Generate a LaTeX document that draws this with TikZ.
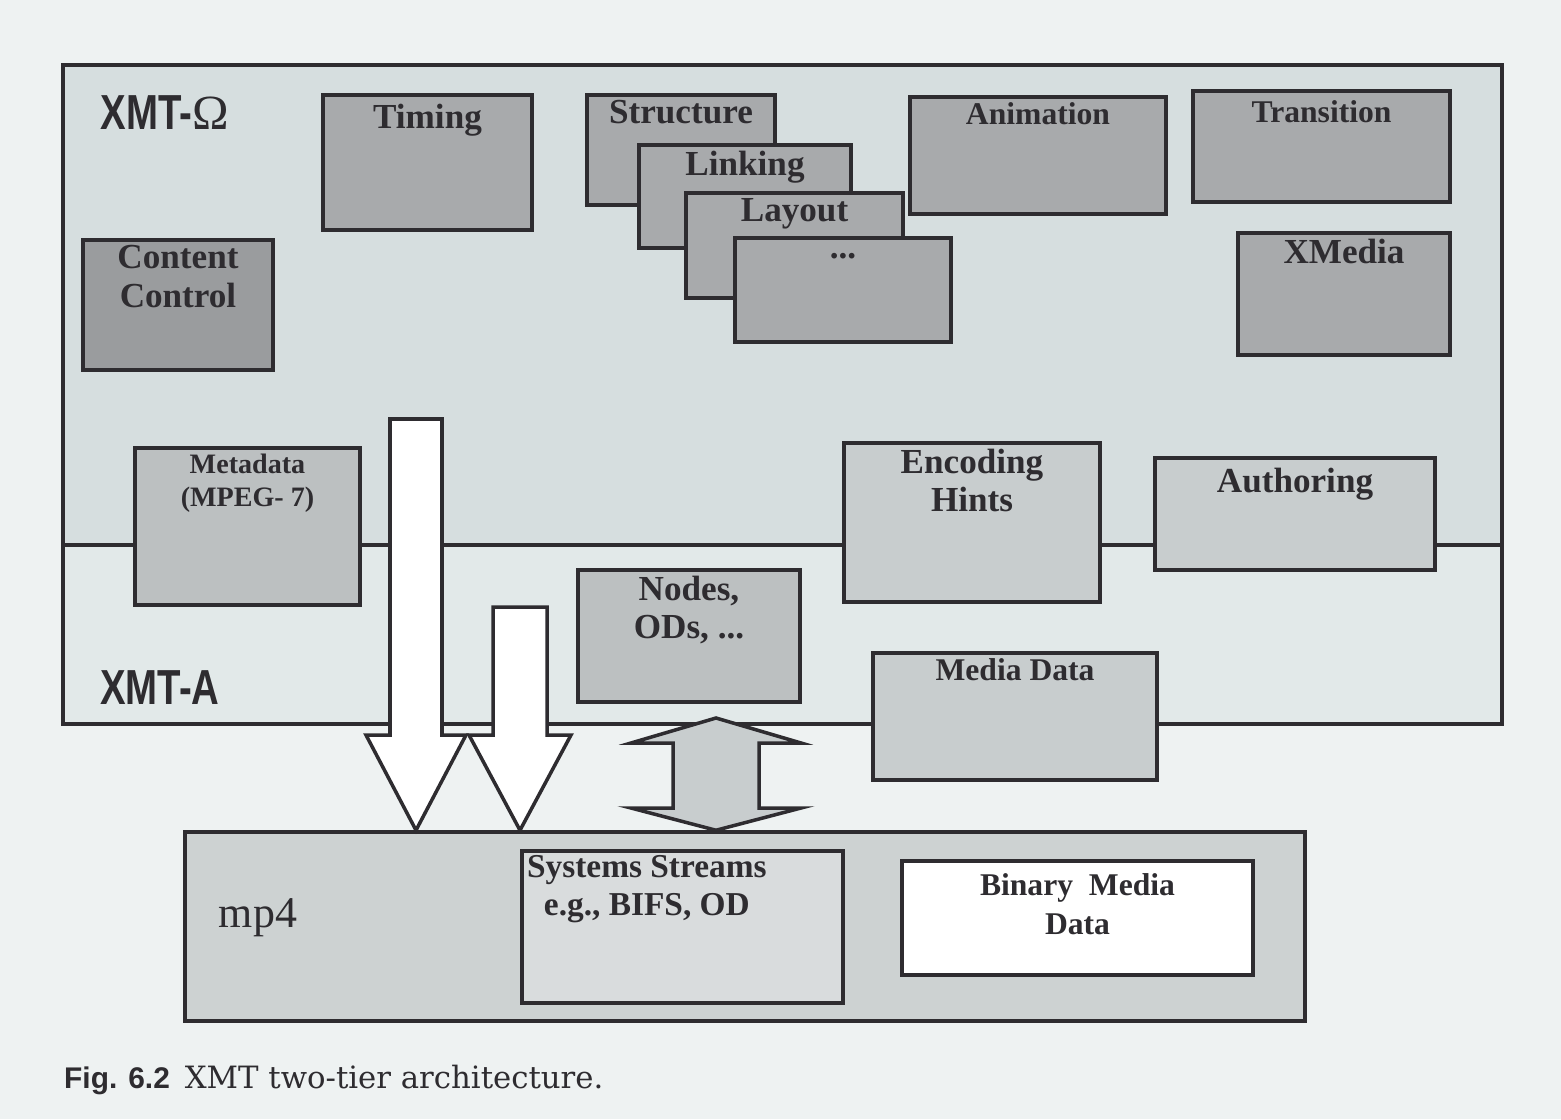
\documentclass[tikz,border=0pt]{standalone}
\usepackage{fontspec}
\setmainfont{Liberation Serif}
\setsansfont{Liberation Sans}
\newfontfamily\tiersans[FakeStretch=0.78]{Liberation Sans}
\newfontfamily\capserif{DejaVu Serif}
\usetikzlibrary{calc}
\usetikzlibrary{fit}

\definecolor{paper}{HTML}{EEF2F2}
\definecolor{omegafill}{HTML}{D6DEDF}
\definecolor{afill}{HTML}{E2E9E9}
\definecolor{deepbox}{HTML}{9A9C9E}
\definecolor{darkbox}{HTML}{A8AAAC}
\definecolor{midbox}{HTML}{BCC0C1}
\definecolor{lightbox}{HTML}{C8CDCE}
\definecolor{mpfill}{HTML}{CDD2D2}
\definecolor{ink}{HTML}{2E2C30}

\tikzset{
  frame/.style={draw=ink, line width=2pt},
  obox/.style={frame, fill=darkbox, inner sep=0pt},
  abox/.style={frame, fill=midbox, inner sep=0pt},
  lab/.style={text=ink, font=\bfseries\fontsize{20}{22}\selectfont, align=center, below, inner sep=4pt},
  smalllab/.style={lab, font=\bfseries\fontsize{17}{20}\selectfont},
  tier/.style={text=ink, font=\tiersans\bfseries\fontsize{28}{30}\selectfont},
  hollow/.style={frame, fill=white, line join=miter},
  twoway/.style={frame, fill=lightbox, line join=miter},
}

\begin{document}
\begin{tikzpicture}[x=0.02cm, y=-0.02cm]
  \useasboundingbox[fill=paper] (0,0) rectangle (1561,1119);

  % the two tiers
  \node[frame, fill=afill, inner sep=0pt, fit={(63,545) (1502,724)}] (xmta) {};
  \node[frame, fill=omegafill, inner sep=0pt, fit={(63,65) (1502,545)}] (xmto) {};
  \node[tier] (omegalab) at (165,113) {XMT-{\rmfamily\mdseries Ω}};
  \node[tier] (alab) at (160,688) {XMT-A};

  % XMT-Omega modules
  \node[obox, fit={(323,95) (532,230)}] (timing) {};
  \node[lab] (timingtxt) at ($(timing.north)+(0,3)$) {Timing};
  \node[obox, fill=deepbox, fit={(83,240) (273,370)}] (content) {};
  \node[lab] (contenttxt) at (content.north) {Content\\Control};
  \node[obox, fit={(587,95) (775,205)}] (structure) {};
  \node[lab] (structuretxt) at (structure.north) {Structure};
  \node[obox, fit={(639,145) (851,248)}] (linking) {};
  \node[lab] (linkingtxt) at (linking.north) {Linking};
  \node[obox, fit={(686,193) (903,298)}] (layout) {};
  \node[lab] (layouttxt) at (layout.north) {Layout};
  \node[obox, fit={(735,238) (951,342)}] (more) {};
  \node[lab] (moretxt) at ($(more.north)+(0,10)$) {...};
  \node[obox, fit={(910,97) (1166,214)}] (animation) {};
  \node[smalllab, font=\bfseries\fontsize{18}{20}\selectfont] (animationtxt) at (animation.north) {Animation};
  \node[obox, fit={(1193,91) (1450,202)}] (transition) {};
  \node[smalllab, font=\bfseries\fontsize{18}{20}\selectfont] (transitiontxt) at ($(transition.north)+(0,4)$) {Transition};
  \node[obox, fit={(1238,233) (1450,355)}] (xmedia) {};
  \node[lab] (xmediatxt) at (xmedia.north) {XMedia};

  % modules on the tier border and in XMT-A
  \node[abox, fit={(135,448) (360,605)}] (metadata) {};
  \node[smalllab, font=\bfseries\fontsize{16}{19}\selectfont] (metadatatxt) at (metadata.north) {Metadata\\(MPEG- 7)};
  \node[abox, fill=lightbox, fit={(844,443) (1100,602)}] (hints) {};
  \node[lab] (hintstxt) at (hints.north) {Encoding\\Hints};
  \node[abox, fill=lightbox, fit={(1155,458) (1435,570)}] (authoring) {};
  \node[lab] (authoringtxt) at ($(authoring.north)+(0,4)$) {Authoring};
  \node[abox, fit={(578,570) (800,702)}] (nodes) {};
  \node[lab] (nodestxt) at (nodes.north) {Nodes,\\ODs, ...};
  \node[abox, fill=lightbox, fit={(873,653) (1157,780)}] (media) {};
  \node[smalllab, font=\bfseries\fontsize{18}{20}\selectfont] (mediatxt) at (media.north) {Media Data};

  % mp4 file
  \node[frame, fill=mpfill, inner sep=0pt, fit={(185,832) (1305,1021)}] (mp4) {};
  \node[text=ink, font=\fontsize{25}{28}\selectfont] (mp4txt) at (258,918) {mp4};
  \node[frame, fill=lightbox!70!white, inner sep=0pt, fit={(522,851) (843,1003)}] (streams) {};
  \node[smalllab, font=\bfseries\fontsize{19}{22}\selectfont, anchor=north west, inner sep=2pt] (streamstxt) at ($(streams.north west)+(3,2)$) {Systems Streams\\e.g., BIFS, OD};
  \node[frame, fill=white, inner sep=0pt, fit={(902,861) (1253,975)}] (binary) {};
  \node[smalllab, font=\bfseries\fontsize{18}{22}\selectfont, inner sep=8pt] (binarytxt) at (binary.north) {Binary~~Media\\Data};

  % arrows down to mp4
  \coordinate (down1) at (416,419);
  \draw[hollow] (down1) ++(-26,0) -- ++(0,316) -- ++(-24,0) -- (down1 |- mp4.north)
    -- ($(down1)+(50,316)$) -- ++(-24,0) -- ++(0,-316) -- cycle;
  \coordinate (down2) at (520,607);
  \draw[hollow] (down2) ++(-27,0) -- ++(0,128) -- ++(-24,0) -- (down2 |- mp4.north)
    -- ($(down2)+(51,128)$) -- ++(-24,0) -- ++(0,-128) -- cycle;
  \coordinate (both) at (716,718);
  \draw[twoway] (both) -- ++(85,25) -- ++(-42,0) -- ++(0,65) -- ++(42,0)
    -- (both |- mp4.north) -- ($(both)+(-85,90)$) -- ++(42,0) -- ++(0,-65)
    -- ++(-42,0) -- cycle;

  % caption
  \node[anchor=west, text=ink, font=\fontsize{17}{20}\selectfont] (caption) at (58,1080)
    {{\sffamily\bfseries Fig. 6.2}\hspace{0.5em}{\capserif\fontsize{17.5}{20}\selectfont XMT two-tier architecture.}};
\end{tikzpicture}
\end{document}
